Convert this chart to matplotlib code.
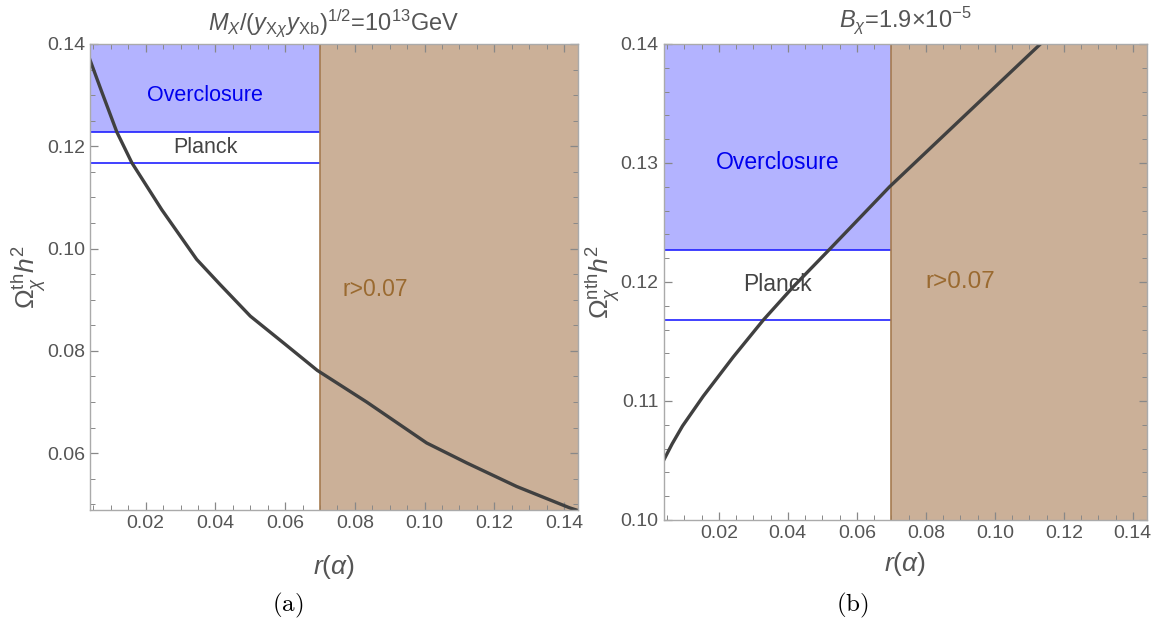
import numpy as np
import matplotlib
matplotlib.use("Agg")
import matplotlib.pyplot as plt
from matplotlib.ticker import MultipleLocator, FormatStrFormatter

plt.rcParams['font.family'] = ['Liberation Sans', 'DejaVu Sans']
plt.rcParams['mathtext.fontset'] = 'custom'
plt.rcParams['mathtext.rm'] = 'Liberation Sans'
plt.rcParams['mathtext.it'] = 'Liberation Sans:italic'
plt.rcParams['mathtext.bf'] = 'Liberation Sans:bold'

# thermal relic abundance vs r(alpha)
r_th = [0.004, 0.0073, 0.0117, 0.016, 0.0246, 0.0346, 0.0413, 0.0500, 0.0600, 0.0692,
        0.0834, 0.1006, 0.1121, 0.1264, 0.1417, 0.144]
omega_th = [0.1369, 0.1308, 0.1228, 0.1168, 0.1076, 0.0979, 0.0930, 0.0868, 0.0813, 0.0762,
            0.0700, 0.0620, 0.0581, 0.0535, 0.0493, 0.0488]

# non-thermal abundance vs r(alpha)
r_nth = [0.004, 0.0065, 0.0095, 0.0155, 0.0242, 0.0329, 0.0416, 0.0523, 0.0576,
         0.0695, 0.0899, 0.1136, 0.1160]
omega_nth = [0.1050, 0.1064, 0.1079, 0.1104, 0.1137, 0.1168, 0.1196, 0.1228, 0.1244,
             0.1280, 0.1336, 0.1401, 0.1407]

planck_lo, planck_hi = 0.1168, 0.1227
r_bound = 0.07
xlim = (0.004, 0.144)

BLUE_FILL = '#b3b3ff'
BROWN = '#cbb098'
BROWN_EDGE = '#a57b50'
TXT = '#555555'


def setup_panel(ax, ylim, ymajor, yminor, txt_size, xpad):
    ax.set_xlim(*xlim)
    ax.set_ylim(*ylim)
    # overclosure band + Planck window
    ax.fill_between([xlim[0], r_bound], planck_hi, ylim[1], color=BLUE_FILL, lw=0, zorder=1)
    ax.hlines([planck_lo, planck_hi], xlim[0], r_bound, color='#2020ff', lw=1.2, zorder=2)
    # excluded r > 0.07
    ax.axvspan(r_bound, xlim[1], color=BROWN, lw=0, zorder=1)
    ax.axvline(r_bound, color=BROWN_EDGE, lw=1.2, zorder=2)

    ax.xaxis.set_major_locator(MultipleLocator(0.02))
    ax.xaxis.set_minor_locator(MultipleLocator(0.005))
    ax.yaxis.set_major_locator(MultipleLocator(ymajor))
    ax.yaxis.set_minor_locator(MultipleLocator(yminor))
    ax.xaxis.set_major_formatter(FormatStrFormatter('%.2f'))
    ax.yaxis.set_major_formatter(FormatStrFormatter('%.2f'))
    ax.tick_params(which='both', direction='in', top=True, right=True,
                   color='#888888', labelcolor=TXT, labelsize=14)
    ax.tick_params(which='major', length=6, width=0.9)
    ax.tick_params(which='minor', length=3.5, width=0.7)
    for s in ax.spines.values():
        s.set_color('#aaaaaa')
        s.set_linewidth(1.0)
        s.set_zorder(5)
    ax.set_xlabel(r'$r(\alpha)$', fontsize=19, color=TXT, labelpad=xpad)
    ax.text(0.037, 0.130, 'Overclosure', color='#0000ee', fontsize=txt_size,
            ha='center', va='center', zorder=4)
    ax.text(0.037, (planck_lo + planck_hi) / 2, 'Planck', color='#444444',
            fontsize=txt_size, ha='center', va='center', zorder=4)


fig = plt.figure(figsize=(11.52, 6.24), dpi=100)
ax1 = fig.add_axes([0.0781, 0.1827, 0.4236, 0.7468])
ax2 = fig.add_axes([0.576, 0.1667, 0.4193, 0.7628])

setup_panel(ax1, (0.0489, 0.14), 0.02, 0.005, 15.5, 15)
ax1.plot(r_th, omega_th, color='#404040', lw=2.4, zorder=3)
ax1.text(0.0858, 0.092, 'r>0.07', color='#9a6a30', fontsize=16.5, ha='center', va='center', zorder=4)
ax1.set_ylabel(r'$\Omega_\chi^{\mathrm{th}}h^2$', fontsize=19, color=TXT, labelpad=-1)
ax1.set_title(r'$M_X/(y_{\mathrm{X}\chi}y_{\mathrm{Xb}})^{1/2}$=10$^{13}$GeV',
              fontsize=17, color=TXT, pad=10)

setup_panel(ax2, (0.10, 0.14), 0.01, 0.002, 16.5, 6)
ax2.plot(r_nth, omega_nth, color='#404040', lw=2.4, zorder=3)
ax2.text(0.090, 0.120, 'r>0.07', color='#9a6a30', fontsize=17.5, ha='center', va='center', zorder=4)
ax2.set_ylabel(r'$\Omega_\chi^{\mathrm{nth}}h^2$', fontsize=19, color=TXT, labelpad=-1)
ax2.set_title(r'$B_\chi$=1.9$\times$10$^{-5}$', fontsize=17, color=TXT, pad=12)

fig.text(0.25, 0.03, r'$\mathrm{(a)}$', fontsize=18, ha='center', va='center', math_fontfamily='cm')
fig.text(0.74, 0.03, r'$\mathrm{(b)}$', fontsize=18, ha='center', va='center', math_fontfamily='cm')

fig.savefig('out.png', dpi=100)
